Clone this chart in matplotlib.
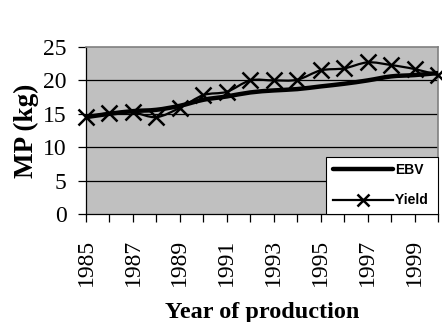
import numpy as np
import matplotlib
matplotlib.use("Agg")
import matplotlib.pyplot as plt
from matplotlib.path import Path
from matplotlib.patches import PathPatch

years = [1985, 1986, 1987, 1988, 1989, 1990, 1991, 1992, 1993, 1994, 1995,
         1996, 1997, 1998, 1999, 2000]
ebv = [14.5, 15.0, 15.4, 15.6, 16.2, 17.1, 17.6, 18.2, 18.5, 18.7, 19.1,
       19.5, 20.0, 20.6, 20.8, 21.1]
yield_ = [14.5, 15.1, 15.2, 14.5, 15.9, 17.8, 18.3, 20.0, 20.0, 20.1, 21.5,
          21.8, 22.7, 22.3, 21.7, 20.8]
xtick_labels = ["1985", "1987", "1989", "1991", "1993", "1995", "1997", "1999"]
yticks = [0, 5, 10, 15, 20, 25]


def smooth_path(x, y):
    # Excel-style smoothed line: cubic Bezier segments through the data
    x = np.asarray(x, float)
    y = np.asarray(y, float)
    n = len(x)
    verts = [(x[0], y[0])]
    codes = [Path.MOVETO]
    for i in range(n - 1):
        p0 = (x[i - 1], y[i - 1]) if i > 0 else (x[i], y[i])
        p1 = (x[i], y[i])
        p2 = (x[i + 1], y[i + 1])
        p3 = (x[i + 2], y[i + 2]) if i + 2 < n else p2
        c1 = (p1[0] + (p2[0] - p0[0]) / 6, p1[1] + (p2[1] - p0[1]) / 6)
        c2 = (p2[0] - (p3[0] - p1[0]) / 6, p2[1] - (p3[1] - p1[1]) / 6)
        verts += [c1, c2, p2]
        codes += [Path.CURVE4] * 3
    return Path(verts, codes)


fig = plt.figure(figsize=(4.42, 3.22), dpi=100)
ax = fig.add_axes([0.1946, 0.3354, 0.7964, 0.5186])
ax.set_facecolor("#c0c0c0")
ax.set_xlim(1985, 2000)
ax.set_ylim(0, 25)

for v in yticks[1:-1]:
    ax.axhline(v, color="black", lw=0.9, zorder=1)

ax.add_patch(PathPatch(smooth_path(years, ebv), fill=False, color="black",
                       lw=3.2, zorder=3, capstyle="round"))
ax.add_patch(PathPatch(smooth_path(years, yield_), fill=False, color="black",
                       lw=1.6, zorder=3))
ax.plot(years, yield_, ls="none", marker="x", ms=11, mew=1.8, color="black",
        zorder=4, clip_on=False)

# legend proxies
h1, = ax.plot([], [], color="black", lw=3.2, solid_capstyle="round")
h2, = ax.plot([], [], color="black", lw=1.6, marker="x", ms=9, mew=1.8)
leg = ax.legend([h1, h2], ["EBV", "Yield "], loc="lower right",
                bbox_to_anchor=(1.0, 0.0), frameon=True, fancybox=False,
                edgecolor="black", framealpha=1, facecolor="white",
                prop={"family": "Liberation Sans", "weight": "bold", "size": 10},
                handlelength=4.3, handletextpad=0.15, labelspacing=1.17,
                borderpad=0.47, borderaxespad=0.0)
leg.get_frame().set_linewidth(0.8)
leg.set_zorder(5)

ax.set_xticks(list(range(1985, 2001)))
ax.set_xticklabels([str(y) if str(y) in xtick_labels else "" for y in range(1985, 2001)],
                   rotation=90, family="Liberation Serif", fontsize=17)
ax.set_yticks(yticks)
ax.set_yticklabels([str(v) for v in yticks], family="Liberation Serif", fontsize=17)
ax.tick_params(axis="y", direction="out", length=6, width=0.9, color="black", pad=8)
ax.tick_params(axis="x", direction="out", length=6, width=0.9, color="black", pad=12)

for s in ["top", "right"]:
    ax.spines[s].set_color("#808080")
    ax.spines[s].set_linewidth(1.2)
for s in ["left", "bottom"]:
    ax.spines[s].set_color("black")
    ax.spines[s].set_linewidth(0.9)

ax.set_ylabel("MP (kg)", family="Liberation Serif", weight="bold", fontsize=19.5, labelpad=3)
ax.set_xlabel("Year of production", family="Liberation Serif", weight="bold",
              fontsize=17.5, labelpad=11)

fig.savefig("out.png", dpi=100)
